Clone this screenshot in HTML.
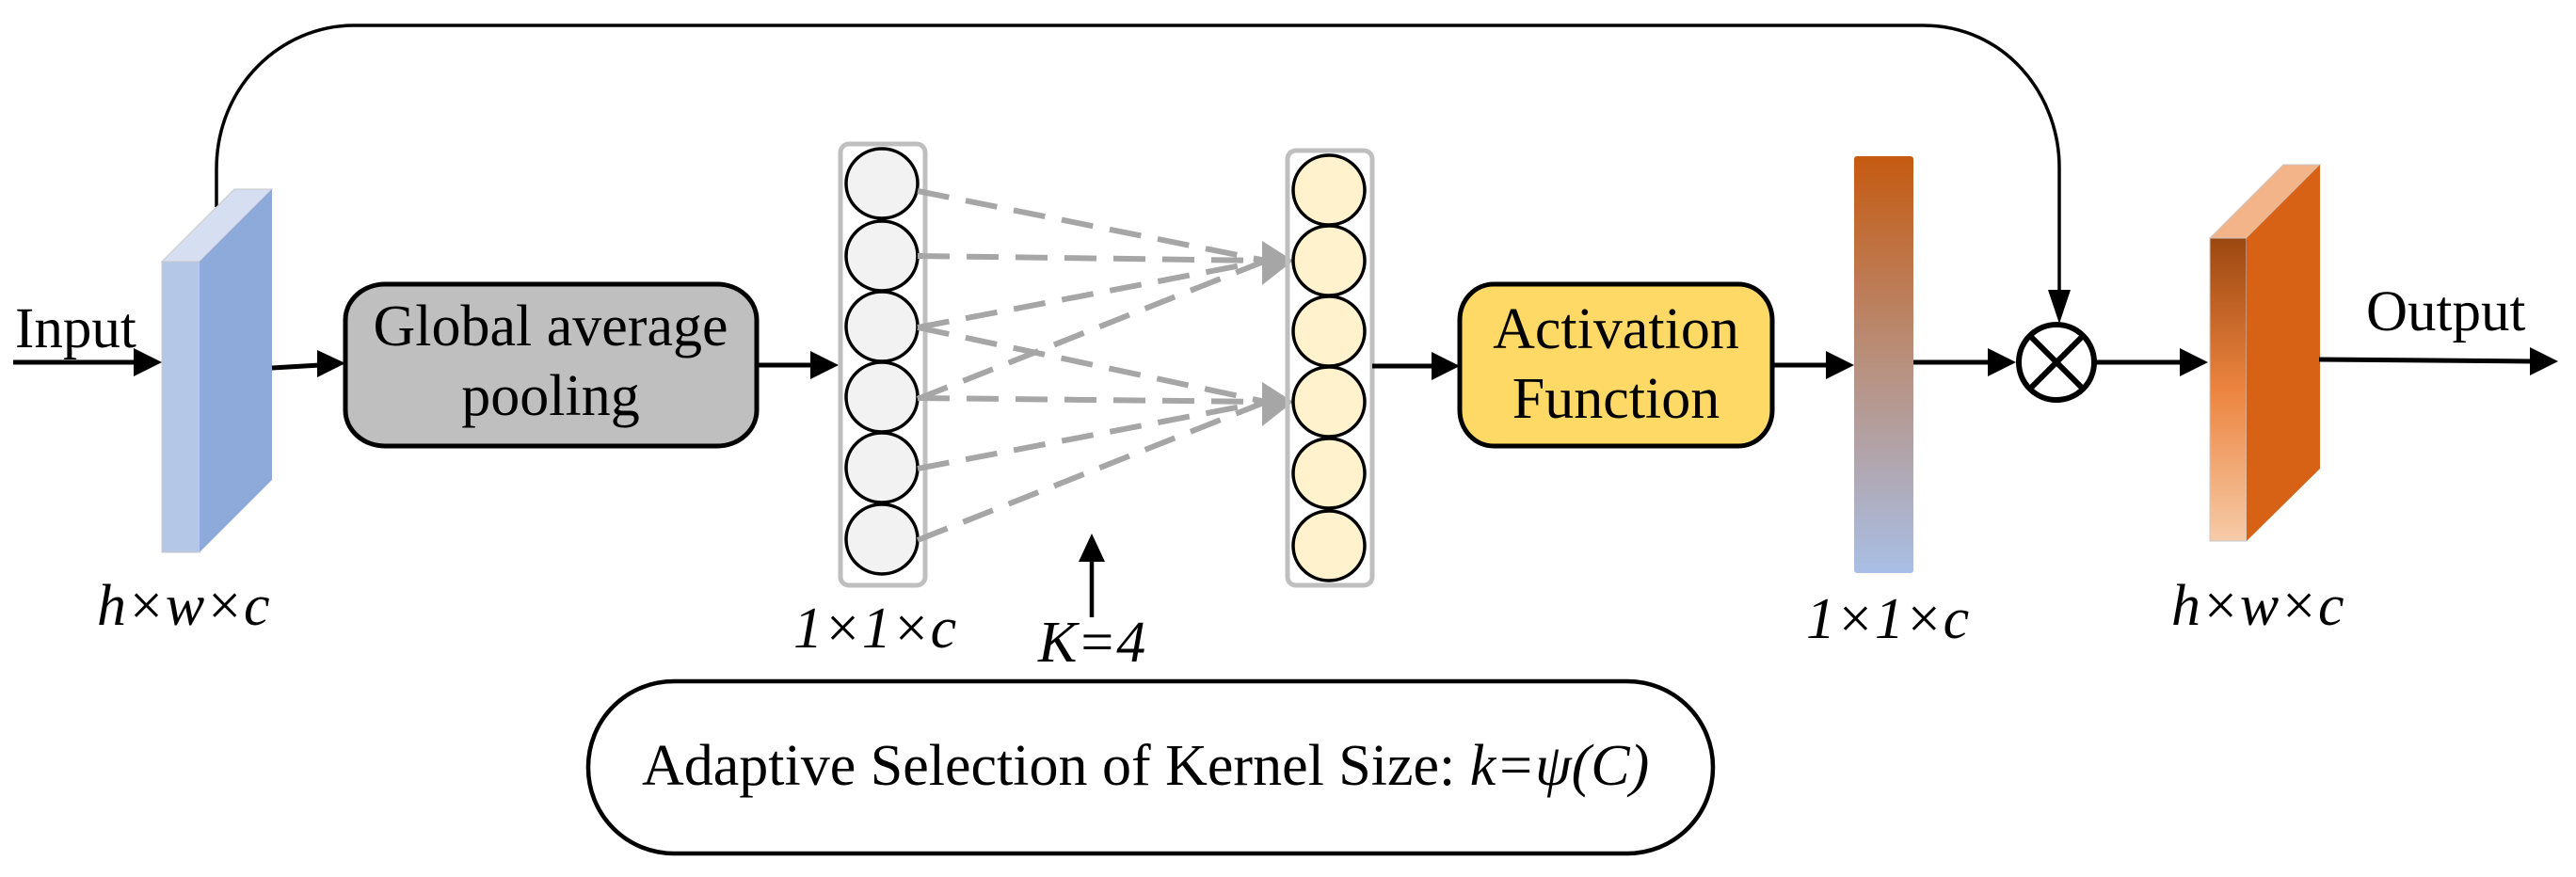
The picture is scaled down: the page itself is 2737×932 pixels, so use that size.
<!DOCTYPE html>
<html><head><meta charset="utf-8"><style>html,body{margin:0;padding:0;background:#fff}svg{display:block}</style></head>
<body>
<svg width="2737" height="932" viewBox="0 0 2737 932" xmlns="http://www.w3.org/2000/svg" font-family="Liberation Serif, serif">
<defs>
<linearGradient id="bar" x1="0" y1="0" x2="0" y2="1">
<stop offset="0" stop-color="#c55a11"/><stop offset="0.5" stop-color="#b8907e"/><stop offset="1" stop-color="#a9bfe6"/>
</linearGradient>
<linearGradient id="of" x1="0" y1="0" x2="0" y2="1">
<stop offset="0" stop-color="#9c4710"/><stop offset="0.5" stop-color="#ec843f"/><stop offset="1" stop-color="#f6cba8"/>
</linearGradient>
</defs>
<!-- skip connection -->
<path d="M230 220 L230 180 C230 90 300 27 376 27 L2043 27 C2130 27 2188 100 2188 178 L2188 310" fill="none" stroke="#000" stroke-width="3.5"/>
<polygon points="2176,308 2200,308 2188,344" fill="#000"/>

<!-- input slab -->
<polygon points="172,278 212,278 289,201 249,201" fill="#d6dff1" stroke="#c8c8c8" stroke-width="1"/>
<rect x="172" y="278" width="40" height="309" fill="#b4c7e7" stroke="#c8c8c8" stroke-width="1"/>
<polygon points="212,278 289,201 289,510 212,587" fill="#8eaadb"/>

<!-- Input -->
<text x="16" y="369" font-size="61">Input</text>
<line x1="14" y1="385" x2="145" y2="385" stroke="#000" stroke-width="5"/>
<polygon points="142,370 172,385 142,400" fill="#000"/>

<line x1="289" y1="391" x2="340" y2="388" stroke="#000" stroke-width="5"/>
<polygon points="337,372 367,386 337,401" fill="#000"/>

<!-- GAP -->
<rect x="367" y="302" width="437" height="172" rx="42" ry="38" fill="#bfbfbf" stroke="#000" stroke-width="5"/>
<text x="585" y="367" font-size="62" text-anchor="middle">Global average</text>
<text x="585" y="441" font-size="62" text-anchor="middle">pooling</text>

<line x1="804" y1="388" x2="864" y2="388" stroke="#000" stroke-width="5"/>
<polygon points="861,373 891,388 861,403" fill="#000"/>

<!-- left column -->
<rect x="893" y="153" width="90" height="469" rx="9" fill="none" stroke="#bfbfbf" stroke-width="5"/>
<g fill="#f2f2f2" stroke="#000" stroke-width="3.5">
<ellipse cx="937" cy="195" rx="38" ry="37"/><ellipse cx="937" cy="272" rx="38" ry="37"/><ellipse cx="937" cy="347" rx="38" ry="37"/>
<ellipse cx="937" cy="422" rx="38" ry="37"/><ellipse cx="937" cy="497" rx="38" ry="37"/><ellipse cx="937" cy="573" rx="38" ry="37"/>
</g>
<g stroke="#a6a6a6" stroke-width="6" stroke-dasharray="34,18" fill="none">
<line x1="975" y1="203" x2="1345" y2="277"/>
<line x1="975" y1="272" x2="1345" y2="277"/>
<line x1="975" y1="348" x2="1345" y2="277"/>
<line x1="975" y1="424" x2="1345" y2="277"/>
<line x1="975" y1="348" x2="1345" y2="427"/>
<line x1="975" y1="423" x2="1345" y2="427"/>
<line x1="975" y1="498" x2="1345" y2="427"/>
<line x1="975" y1="574" x2="1345" y2="427"/>
</g>
<polygon points="1341,256 1374,277 1341,303" fill="#a6a6a6"/>
<polygon points="1341,406 1374,427 1341,453" fill="#a6a6a6"/>

<!-- right column -->
<rect x="1368" y="160" width="90" height="462" rx="9" fill="none" stroke="#bfbfbf" stroke-width="5"/>
<g fill="#fff2cc" stroke="#000" stroke-width="3.5">
<ellipse cx="1412" cy="202" rx="38" ry="37"/><ellipse cx="1412" cy="277" rx="38" ry="37"/><ellipse cx="1412" cy="352" rx="38" ry="37"/>
<ellipse cx="1412" cy="427" rx="38" ry="37"/><ellipse cx="1412" cy="503" rx="38" ry="37"/><ellipse cx="1412" cy="580" rx="38" ry="37"/>
</g>

<!-- K=4 arrow -->
<line x1="1160" y1="656" x2="1160" y2="595" stroke="#000" stroke-width="4.5"/>
<polygon points="1146,597 1160,567 1174,597" fill="#000"/>
<text x="1103" y="703" font-size="62" font-style="italic">K=4</text>

<text x="843" y="688" font-size="62" font-style="italic">1×1×c</text>
<text x="103" y="664" font-size="62" font-style="italic">h×w×c</text>

<!-- bottom box -->
<rect x="625" y="724" width="1195" height="183" rx="91" ry="91" fill="none" stroke="#000" stroke-width="4.5"/>
<text x="682" y="834" font-size="62">Adaptive Selection of Kernel Size: <tspan font-style="italic">k=ψ(C)</tspan></text>

<!-- to activation -->
<line x1="1458" y1="389" x2="1524" y2="389" stroke="#000" stroke-width="5"/>
<polygon points="1521,374 1551,389 1521,404" fill="#000"/>

<rect x="1551" y="302" width="332" height="172" rx="36" ry="38" fill="#ffd966" stroke="#000" stroke-width="5"/>
<text x="1717" y="370" font-size="62" text-anchor="middle">Activation</text>
<text x="1717" y="444" font-size="62" text-anchor="middle">Function</text>

<line x1="1883" y1="388" x2="1943" y2="388" stroke="#000" stroke-width="5"/>
<polygon points="1940,373 1970,388 1940,403" fill="#000"/>

<rect x="1970" y="166" width="63" height="443" rx="3" fill="url(#bar)"/>
<text x="1919" y="678" font-size="62" font-style="italic">1×1×c</text>

<line x1="2033" y1="385" x2="2115" y2="385" stroke="#000" stroke-width="5"/>
<polygon points="2112,370 2142,385 2112,400" fill="#000"/>

<circle cx="2185" cy="385" r="40" fill="#fff" stroke="#000" stroke-width="6"/>
<line x1="2157" y1="357" x2="2213" y2="413" stroke="#000" stroke-width="6"/>
<line x1="2213" y1="357" x2="2157" y2="413" stroke="#000" stroke-width="6"/>

<line x1="2225" y1="385" x2="2319" y2="385" stroke="#000" stroke-width="5"/>
<polygon points="2316,370 2346,385 2316,400" fill="#000"/>

<!-- output slab -->
<polygon points="2348,253 2387,253 2465,175 2426,175" fill="#f4b489" stroke="#c8c8c8" stroke-width="1"/>
<rect x="2348" y="253" width="39" height="322" fill="url(#of)" stroke="#c8c8c8" stroke-width="1"/>
<polygon points="2387,253 2465,175 2465,498 2387,575" fill="#d76215"/>
<text x="2307" y="664" font-size="62" font-style="italic">h×w×c</text>

<line x1="2464" y1="382" x2="2692" y2="384" stroke="#000" stroke-width="5"/>
<polygon points="2688,369 2718,384 2688,399" fill="#000"/>
<text x="2514" y="351" font-size="61">Output</text>
</svg>
</body></html>
